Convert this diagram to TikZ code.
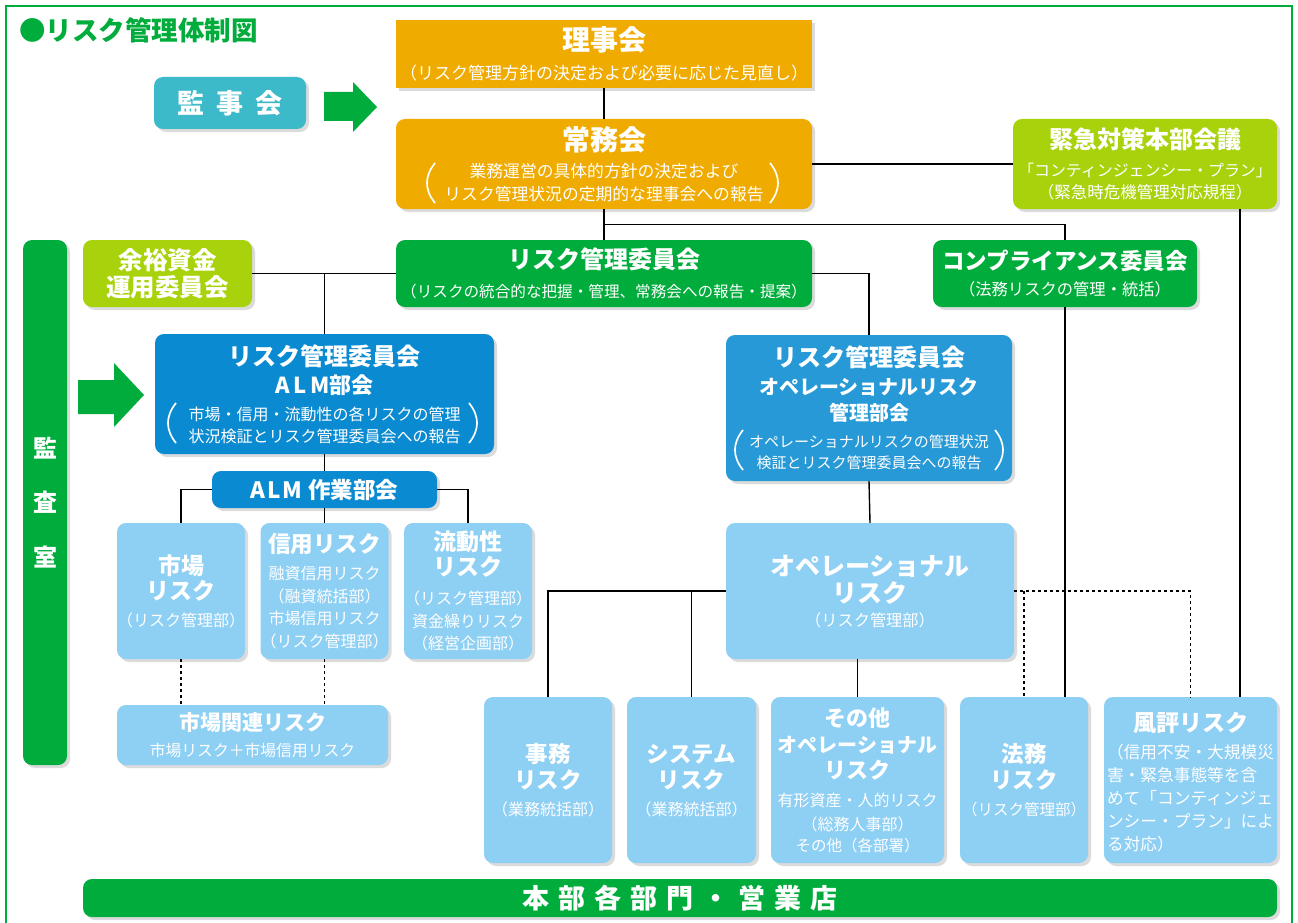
\documentclass[tikz,border=0pt]{standalone}
\usepackage{fontspec}
\setmainfont{Noto Sans CJK JP}
\usetikzlibrary{shadows,calc}
\definecolor{orng}{HTML}{F0AB00}
\definecolor{tealc}{HTML}{3DBACA}
\definecolor{ygrn}{HTML}{A8D30C}
\definecolor{grn}{HTML}{00AC3B}
\definecolor{blu1}{HTML}{0A8BD1}
\definecolor{blu2}{HTML}{2799D7}
\definecolor{lblu}{HTML}{8ECFF4}
\newcommand\Tb[2]{\fontsize{#1}{0}\selectfont\bfseries\raisebox{0pt}[0.88em][0.12em]{#2}}
\newcommand\Tr[2]{\fontsize{#1}{0}\selectfont\mdseries\raisebox{0pt}[0.88em][0.12em]{#2}}
\newcommand\stk[1]{\vbox{\baselineskip=0pt\lineskip=1pt\lineskiplimit=0pt\halign{\hfil##\hfil\cr#1\crcr}}}
\newcommand\gap[1]{\noalign{\vskip#1}}
\newcommand\bx[7]{\node[bx,#6,minimum width={(#4-#2)*1pt},minimum height={(#5-#3)*1pt}] (#1) at ({(#2+#4)/2},{(#3+#5)/2}) {\stk{#7}};}
\newcommand\parenL[3]{\draw[parenline] (#1+8,#2) .. controls (#1-2.7,#2*2/3+#3/3) and (#1-2.7,#2/3+#3*2/3) .. (#1+8,#3);}
\newcommand\parenR[3]{\draw[parenline] (#1-8,#2) .. controls (#1+2.7,#2*2/3+#3/3) and (#1+2.7,#2/3+#3*2/3) .. (#1-8,#3);}
\tikzset{
  bx/.style={inner sep=0pt, text=white,
    drop shadow={opacity=0.28, shadow xshift=3pt, shadow yshift=-3pt}},
  rc/.style={rounded corners=9pt},
  ln/.style={line width=1.4pt, black},
  dl/.style={line width=1.2pt, black, dash pattern=on 3pt off 3pt},
  parenline/.style={white, line width=1.7pt},
}
\begin{document}
\begin{tikzpicture}[x=1pt,y=-1pt]
\useasboundingbox (0,0) rectangle (1298,923);
\fill[white] (0,0) rectangle (1298,923);
\draw[grn, line width=1.6pt] (6,960) -- (6,6) -- (1292,6) -- (1292,960);

\node[anchor=west, text=grn, inner sep=0pt] (title) at (19,30) {\Tb{26.5}{●リスク管理体制図}};

% boxes
\bx{kanji}{154}{77}{306}{129}{fill=tealc, rc}{\Tb{27}{監\hspace{12pt}事\hspace{12pt}会}}
\bx{riji}{396}{20}{812}{88}{fill=orng}{\Tb{28}{理事会}\cr\gap{9.5pt}\Tr{17}{（リスク管理方針の決定および必要に応じた見直し）}}
\bx{jomu}{396}{119}{812}{209}{fill=orng, rc}{\Tb{28}{常務会}\cr\gap{7.6pt}\Tr{16.8}{業務運営の具体的方針の決定および}\cr\gap{5.2pt}\Tr{16.8}{リスク管理状況の定期的な理事会への報告}}
\bx{kinkyu}{1013}{119}{1277}{209}{fill=ygrn, rc}{\Tb{24}{緊急対策本部会議}\cr\gap{10pt}\Tr{15.9}{「コンティンジェンシー・プラン」}\cr\gap{4.3pt}\Tr{16.5}{（緊急時危機管理対応規程）}}
\bx{yoyu}{83}{240}{252}{307}{fill=ygrn, rc}{\Tb{24.5}{余裕資金}\cr\gap{2pt}\Tb{24.5}{運用委員会}}
\bx{riskcom}{396}{240}{812}{307}{fill=grn, rc}{\Tb{24}{リスク管理委員会}\cr\gap{11.2pt}\Tr{15.6}{（リスクの統合的な把握・管理、常務会への報告・提案）}}
\bx{comp}{933}{240}{1197}{307}{fill=grn, rc}{\Tb{22.5}{コンプライアンス委員会}\cr\gap{8.6pt}\Tr{16.3}{（法務リスクの管理・統括）}}
\bx{kansa}{23}{240}{67}{765}{fill=grn, rc}{\Tb{24}{監}\cr\gap{29.5pt}\Tb{24}{査}\cr\gap{29.5pt}\Tb{24}{室}}
\bx{alm}{155}{334}{494}{454}{fill=blu1, rc}{\Tb{24}{リスク管理委員会}\cr\gap{5.5pt}\Tb{22}{A\hspace{4pt}L\hspace{4pt}M部会}\cr\gap{8.5pt}\Tr{16}{市場・信用・流動性の各リスクの管理}\cr\gap{5pt}\Tr{16}{状況検証とリスク管理委員会への報告}}
\bx{opcom}{726}{335}{1012}{481}{fill=blu2, rc}{\Tb{24}{リスク管理委員会}\cr\gap{7pt}\Tb{20}{オペレーショナルリスク}\cr\gap{5pt}\Tb{20}{管理部会}\cr\gap{10.5pt}\Tr{15}{オペレーショナルリスクの管理状況}\cr\gap{5pt}\Tr{15}{検証とリスク管理委員会への報告}}
\bx{sagyo}{212}{471}{437}{508}{fill=blu1, rc}{\Tb{22.5}{A\hspace{1.5pt}L\hspace{1.5pt}M\hspace{6pt}作業部会}}
\bx{shijo}{117}{523}{245}{659}{fill=lblu, rc}{\Tb{23}{市場}\cr\gap{1pt}\Tb{23}{リスク}\cr\gap{9pt}\Tr{16}{（リスク管理部）}}
\bx{shinyo}{261}{523}{388}{659}{fill=lblu, rc}{\Tb{22.6}{信用リスク}\cr\gap{9.2pt}\Tr{16}{融資信用リスク}\cr\gap{5.5pt}\Tr{16}{（融資統括部）}\cr\gap{5.5pt}\Tr{16}{市場信用リスク}\cr\gap{5.5pt}\Tr{16}{（リスク管理部）}}
\bx{ryudo}{404}{523}{532}{659}{fill=lblu, rc}{\Tb{23}{流動性}\cr\gap{0.5pt}\Tb{23}{リスク}\cr\gap{11.5pt}\Tr{16}{（リスク管理部）}\cr\gap{5.5pt}\Tr{16}{資金繰りリスク}\cr\gap{5.5pt}\Tr{16}{（経営企画部）}}
\bx{kanren}{117}{705}{388}{765}{fill=lblu, rc}{\Tb{21}{市場関連リスク}\cr\gap{8.6pt}\Tr{15.8}{市場リスク＋市場信用リスク}}
\bx{oprisk}{726}{523}{1014}{659}{fill=lblu, rc}{\Tb{25}{オペレーショナル}\cr\gap{1pt}\Tb{25}{リスク}\cr\gap{5.9pt}\Tr{16.2}{（リスク管理部）}}
\bx{jimu}{484}{697}{612}{863}{fill=lblu, rc}{\Tb{22.5}{事務}\cr\gap{2.5pt}\Tb{22.5}{リスク}\cr\gap{9.25pt}\Tr{16}{（業務統括部）}}
\bx{system}{627}{697}{756}{863}{fill=lblu, rc}{\Tb{22.5}{システム}\cr\gap{2.5pt}\Tb{22.5}{リスク}\cr\gap{9.25pt}\Tr{16}{（業務統括部）}}
\bx{sonota}{771}{697}{944}{863}{fill=lblu, rc}{\Tb{22}{その他}\cr\gap{4.5pt}\Tb{20}{オペレーショナル}\cr\gap{4pt}\Tb{22}{リスク}\cr\gap{9.5pt}\Tr{16}{有形資産・人的リスク}\cr\gap{7.5pt}\Tr{16}{（総務人事部）}\cr\gap{3.75pt}\Tr{15.5}{その他（各部署）}}
\bx{homu}{960}{697}{1088}{863}{fill=lblu, rc}{\Tb{22.5}{法務}\cr\gap{2.5pt}\Tb{22.5}{リスク}\cr\gap{9.25pt}\Tr{15.5}{（リスク管理部）}}
\bx{fuhyo}{1104}{697}{1277}{863}{fill=lblu, rc}{\Tb{23}{風評リスク}\cr\gap{7.75pt}\fontsize{16.7}{23}\selectfont\mdseries\begin{tabular}{@{}l@{}}\raisebox{0pt}[0.88em][0.12em]{（信用不安・大規模災}\\\raisebox{0pt}[0.88em][0.12em]{害・緊急事態等を含}\\\raisebox{0pt}[0.88em][0.12em]{めて「コンティンジェ}\\\raisebox{0pt}[0.88em][0.12em]{ンシー・プラン」によ}\\\raisebox{0pt}[0.88em][0.12em]{る対応）}\\[-9pt]\end{tabular}}
\bx{honbu}{83}{879}{1277}{917}{fill=grn, rc}{\Tb{27}{本\hspace{9pt}部\hspace{9pt}各\hspace{9pt}部\hspace{9pt}門\hspace{9pt}・\hspace{9pt}営\hspace{9pt}業\hspace{9pt}店}}

% big parentheses
\parenL{427}{163}{203}
\parenR{778}{163}{203}
\parenL{168}{403}{443}
\parenR{477}{403}{443}
\parenL{735}{430}{470}
\parenR{1003}{430}{470}

% arrows
\fill[grn] (324,92) -- (353,92) -- (353,82) -- (377,107) -- (353,132) -- (353,121) -- (324,121) -- cycle;
\fill[grn] (78,380) -- (114,380) -- (114,363) -- (144,395) -- (114,427) -- (114,414) -- (78,414) -- cycle;

% connectors
\draw[ln] (riji.south) -- (jomu.north);
\draw[ln] (jomu.east) -- (kinkyu.west);
\draw[ln] (jomu.south) -- (riskcom.north);
\draw[ln] (jomu.south) ++(0,15) -| (comp.north);
\draw[ln] (riskcom.east) -| (opcom.north);
\draw[ln] (yoyu.east) -- (riskcom.west);
\draw[ln] (alm.north) -- (alm.north |- yoyu.east);
\draw[ln] (alm.south) -- (sagyo.north);
\draw[ln] (sagyo.west) -| (shijo.north);
\draw[ln] (sagyo.east) -| (ryudo.north);
\draw[ln] (sagyo.south) -- (shinyo.north);
\draw[dl] (shijo.south) -- (shijo.south |- kanren.north);
\draw[dl] (shinyo.south) -- (shinyo.south |- kanren.north);
\draw[ln] (opcom.south) -- (oprisk.north);
\draw[ln] (oprisk.west) -| (jimu.north);
\draw[ln] (oprisk.west -| system.north) -- (system.north);
\draw[ln] (sonota.north) -- (sonota.north |- oprisk.south);
\draw[dl] (oprisk.east) -| (fuhyo.north);
\draw[dl] (oprisk.east -| homu.north) -- (homu.north);
\draw[ln] (comp.south) -- (comp.south |- homu.north);
\draw[ln] ([xshift=95pt]kinkyu.south) -- ([xshift=95pt]kinkyu.south |- fuhyo.north);
\end{tikzpicture}
\end{document}
